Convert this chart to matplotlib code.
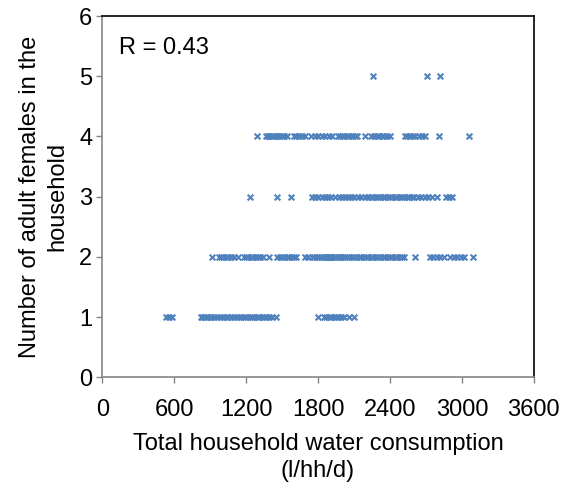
import numpy as np
import matplotlib.pyplot as plt

plt.rcParams['font.family'] = ['Liberation Sans', 'DejaVu Sans']

# water consumption (l/hh/d) of households, grouped by number of adult females
females_1 = [530, 555, 580,
             820, 835, 850, 865, 880, 895, 910, 930, 960, 985, 1010, 1030, 1050, 1075,
             1100, 1120, 1145, 1170, 1190, 1210, 1230, 1250, 1270, 1290, 1310, 1330,
             1350, 1370, 1390, 1420, 1450,
             1800, 1850, 1870, 1890, 1910, 1930, 1950, 1970, 1990, 2020, 2060, 2100]
females_2 = [915, 970, 990, 1010, 1030, 1050, 1070, 1100, 1130, 1180, 1200, 1220, 1240,
             1260, 1280, 1300, 1320, 1340, 1390, 1460, 1480, 1500, 1520, 1540, 1560,
             1580, 1600, 1620,
             1690, 1720, 1750, 1770, 1790, 1810, 1825, 1840, 1855, 1870, 1880, 1890,
             1900, 1910, 1920, 1935, 1950, 1965, 1980, 1995, 2010, 2025, 2040, 2060,
             2080, 2100, 2120, 2140, 2160, 2180, 2200, 2220, 2240, 2260, 2280, 2300,
             2320, 2340, 2360, 2380, 2400, 2420, 2440, 2460, 2480, 2500, 2520,
             2610, 2730, 2760, 2790, 2820, 2850, 2900, 2930, 2960, 2990, 3020, 3090]
females_3 = [1235, 1460, 1575, 1750, 1775, 1800, 1830, 1855, 1880, 1910, 1940, 1975,
             2000, 2025, 2050, 2075, 2100, 2130, 2160, 2190, 2220, 2240, 2260, 2280,
             2300, 2320, 2340, 2360, 2380, 2400, 2420, 2440, 2460, 2480, 2500, 2520,
             2540, 2560, 2580, 2600, 2630, 2660, 2690, 2720, 2750, 2790, 2870, 2895, 2920]
females_4 = [1290, 1365, 1380, 1395, 1410, 1425, 1440, 1455, 1470, 1485, 1500, 1520,
             1545, 1600, 1620, 1645, 1670, 1695, 1745, 1775, 1800, 1830, 1860, 1890,
             1915, 1965, 1980, 2000, 2020, 2040, 2060, 2080, 2105, 2125, 2190, 2245,
             2270, 2290, 2310, 2330, 2350, 2375, 2400, 2525, 2545, 2565, 2590, 2605,
             2640, 2665, 2690, 2805, 3060]
females_5 = [2255, 2705, 2820]

groups = [females_1, females_2, females_3, females_4, females_5]
x = np.concatenate(groups)
y = np.concatenate([[i + 1] * len(g) for i, g in enumerate(groups)])

fig = plt.figure(figsize=(5.71, 4.88), dpi=100)
ax = fig.add_axes([0.179, 0.227, 0.756, 0.740])
ax.scatter(x, y, marker='x', s=17, linewidths=1.5, color='#4F81BD', zorder=3)

ax.set_xlim(0, 3600)
ax.set_ylim(0, 6)
ax.set_xticks(np.arange(0, 3601, 600))
ax.set_yticks(np.arange(0, 7, 1))
ax.tick_params(labelsize=17, direction='out', length=4, color='#868686', width=1)
ax.tick_params(axis='x', pad=12)
ax.tick_params(axis='y', pad=3)
ax.spines['left'].set_color('#868686')
ax.spines['bottom'].set_color('#868686')
ax.spines['top'].set_color('black')
ax.spines['right'].set_color('black')
for s in ax.spines.values():
    s.set_linewidth(1.2)

ax.set_xlabel('Total household water consumption\n(l/hh/d)', fontsize=17, labelpad=8,
              linespacing=1.3)
ax.set_ylabel('Number of adult females in the\nhousehold', fontsize=17, labelpad=8,
              linespacing=1.3)
ax.text(0.04, 0.895, 'R = 0.43', transform=ax.transAxes, fontsize=17)

plt.savefig('out.png', dpi=100)
